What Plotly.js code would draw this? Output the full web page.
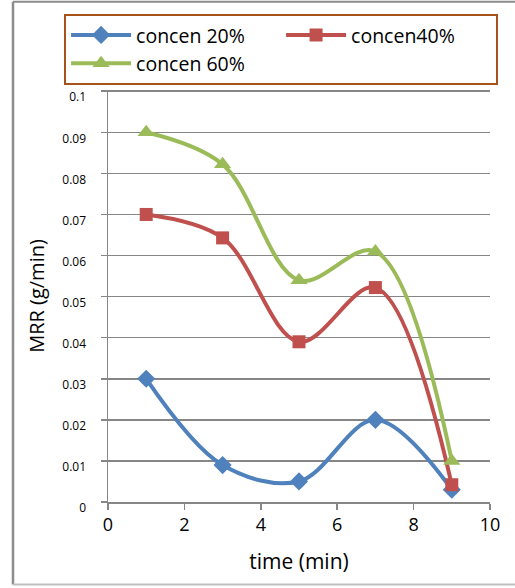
<!DOCTYPE html>
<html>
<head>
<meta charset="utf-8">
<script src="https://cdn.plot.ly/plotly-3.0.1.min.js"></script>
<style>html,body{margin:0;padding:0;background:#fff;}#chart{width:515px;height:588px;}</style>
</head>
<body>
<div id="chart"></div>
<script>
const time = [1, 3, 5, 7, 9];
const concen20 = [0.030, 0.009, 0.005, 0.020, 0.003];
const concen40 = [0.070, 0.0643, 0.039, 0.0522, 0.0042];
const concen60 = [0.090, 0.0822, 0.054, 0.061, 0.010];
const seriesNames = ['concen 20%', 'concen40%', 'concen 60%'];
const yTickVals = [0, 0.01, 0.02, 0.03, 0.04, 0.05, 0.06, 0.07, 0.08, 0.09, 0.1];
const yTickText = ['0', '0.01', '0.02', '0.03', '0.04', '0.05', '0.06', '0.07', '0.08', '0.09', '0.1'];
const xTickVals = [0, 2, 4, 6, 8, 10];

const FONT = '"Open Sans", "Noto Sans", sans-serif';

const traces = [
  {x: time, y: concen20, name: seriesNames[0], mode: 'lines+markers',
   line: {color: '#4F81BD', width: 4, shape: 'spline', smoothing: 1},
   marker: {symbol: 'diamond', size: 14, color: '#4F81BD'}},
  {x: time, y: concen40, name: seriesNames[1], mode: 'lines+markers',
   line: {color: '#C0504D', width: 4, shape: 'spline', smoothing: 1},
   marker: {symbol: 'square', size: 13, color: '#C0504D'}},
  {x: time, y: concen60, name: seriesNames[2], mode: 'lines+markers',
   line: {color: '#9BBB59', width: 4, shape: 'spline', smoothing: 1},
   marker: {symbol: 'triangle-up', size: 15, color: '#9BBB59'}}
];

const layout = {
  width: 515, height: 588,
  margin: {l: 108, r: 25, t: 90, b: 86},
  paper_bgcolor: '#ffffff', plot_bgcolor: '#ffffff',
  font: {family: FONT, color: '#000'},
  showlegend: true,
  legend: {
    orientation: 'h', x: -0.115, xanchor: 'left', y: 1.185, yanchor: 'top',
    bordercolor: '#A5521B', borderwidth: 2, bgcolor: '#fff',
    font: {family: FONT, size: 19.5, color: '#000'},
    entrywidth: 140, itemwidth: 60, tracegroupgap: 0
  },
  xaxis: {
    range: [0, 10], tickvals: xTickVals,
    showgrid: false, zeroline: false,
    showline: true, linecolor: '#868686', linewidth: 1.5,
    ticks: 'outside', ticklen: 6, tickcolor: '#868686', tickwidth: 1.5,
    tickfont: {family: FONT, size: 18, color: '#000'},
    title: {text: 'time (min)', font: {family: FONT, size: 21, color: '#000'}, standoff: 19}
  },
  yaxis: {
    range: [0, 0.1003], tickvals: yTickVals, ticktext: yTickText,
    showgrid: true, gridcolor: '#868686', gridwidth: 1.5, zeroline: false,
    showline: true, linecolor: '#868686', linewidth: 1.5,
    ticks: 'outside', ticklen: 6, tickcolor: '#868686', tickwidth: 1.5,
    ticklabelstandoff: 12, ticklabelshift: 6,
    tickfont: {family: FONT, size: 12, color: '#000'},
    title: {text: 'MRR (g/min)', font: {family: FONT, size: 20, color: '#000'}, standoff: 12}
  },
  shapes: [
    {type: 'line', xref: 'paper', yref: 'paper', x0: -0.2487, x1: 1.07, y0: 1.214, y1: 1.214, line: {color: '#8c8c8c', width: 2}},
    {type: 'line', xref: 'paper', yref: 'paper', x0: -0.2487, x1: -0.2487, y0: 1.214, y1: -0.2, line: {color: '#8c8c8c', width: 2.5}},
    {type: 'line', xref: 'paper', yref: 'paper', x0: -0.2487, x1: 1.07, y0: -0.2, y1: -0.2, line: {color: '#c0c0c0', width: 2}}
  ]
};

Plotly.newPlot('chart', traces, layout, {displayModeBar: false, staticPlot: true});
</script>
</body>
</html>
